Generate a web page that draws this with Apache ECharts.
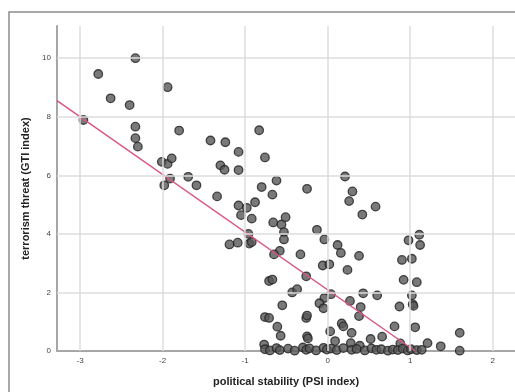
<!DOCTYPE html>
<html>
<head>
<meta charset="utf-8">
<script src="https://cdn.jsdelivr.net/npm/echarts@6/dist/echarts.min.js"></script>
<style>
  html, body { margin: 0; padding: 0; background: #fff; }
  #chart { width: 515px; height: 392px; }
</style>
</head>
<body>
<div id="chart"></div>
<script>
// political stability (PSI) vs terrorism threat (GTI)
const countries = [
    [-2.96, 7.89], [-2.78, 9.46], [-2.63, 8.63], [-2.33, 10.0], [-2.40, 8.40], [-2.33, 7.66],
    [-2.33, 7.27], [-2.30, 6.98], [-1.94, 9.01], [-1.80, 7.53], [-2.01, 6.46], [-1.94, 6.39],
    [-1.89, 6.58], [-1.91, 5.89], [-1.98, 5.66], [-1.69, 5.95], [-1.59, 5.66], [-1.42, 7.19],
    [-1.24, 7.13], [-1.08, 6.80], [-1.30, 6.34], [-1.25, 6.19], [-1.08, 6.18], [-1.34, 5.28],
    [-0.83, 7.54], [-0.76, 6.61], [-0.80, 5.60], [-0.62, 5.82], [-0.67, 5.34], [-0.25, 5.54],
    [0.21, 5.96], [0.30, 5.45], [0.26, 5.12],
    [-1.08, 4.97], [-0.98, 4.89], [-0.88, 5.08], [-1.05, 4.64], [-0.92, 4.52], [-0.96, 4.00],
    [-1.19, 3.64], [-1.09, 3.70], [-0.95, 3.67], [-0.92, 3.72], [-0.66, 4.39], [-0.56, 4.32],
    [-0.51, 4.57], [-0.53, 4.06], [-0.53, 3.81], [-0.58, 3.42], [-0.65, 3.30], [-0.33, 3.30],
    [-0.26, 2.55], [-0.71, 2.39], [-0.67, 2.44], [-0.43, 2.00], [-0.37, 2.11], [-0.55, 1.56],
    [-0.76, 1.16], [-0.71, 1.13], [-0.61, 0.83], [-0.57, 0.52], [-0.26, 1.13], [-0.25, 1.21],
    [-0.25, 0.50], [-0.24, 0.43], [-0.77, 0.22], [0.42, 4.66], [0.58, 4.93], [-0.13, 4.14],
    [-0.04, 3.81], [0.12, 3.62], [0.16, 3.35], [0.38, 3.25], [-0.06, 2.92], [0.02, 2.96],
    [0.24, 2.77], [0.04, 1.94], [-0.04, 1.81], [-0.10, 1.63], [-0.05, 1.46], [0.27, 1.71],
    [0.40, 1.50], [0.43, 1.97], [0.60, 1.90], [0.38, 1.19], [0.17, 0.94], [0.19, 0.84],
    [0.03, 0.67], [0.29, 0.62], [0.09, 0.34], [0.52, 0.41], [0.66, 0.49], [0.81, 0.84],
    [0.87, 1.52], [0.92, 2.43], [0.90, 3.11], [1.02, 3.15], [0.98, 3.78], [1.11, 3.97],
    [1.12, 3.62], [1.08, 2.35], [1.02, 1.90], [1.03, 1.60], [1.04, 1.54], [1.06, 0.81],
    [0.88, 0.26], [1.21, 0.27], [1.37, 0.16], [1.60, 0.62], [1.60, 0.01], [0.28, 0.27],
    [0.39, 0.18]
]
// the crowd of countries sitting on GTI ~ 0
const zeroRow = [
    [-0.76, 0.06], [-0.70, 0.02], [-0.62, 0.10], [-0.58, 0.03], [-0.48, 0.08], [-0.40, 0.01],
    [-0.30, 0.12], [-0.26, 0.04], [-0.22, 0.09], [-0.14, 0.02], [-0.05, 0.11], [-0.01, 0.05],
    [0.04, 0.08], [0.11, 0.03], [0.19, 0.10], [0.29, 0.04], [0.35, 0.07], [0.45, 0.02],
    [0.53, 0.09], [0.59, 0.04], [0.65, 0.06], [0.73, 0.01], [0.79, 0.05], [0.85, 0.03],
    [0.91, 0.08], [0.97, 0.02], [1.01, 0.06], [1.08, 0.03], [1.14, 0.04]
]
// linear fit line ends
const fitLine = [[-3.28, 8.55], [1.06, 0]]
const xGrid = [-3, -2, -1, 0, 1, 2]
const yGrid = [2, 4, 6, 8, 10]

const chart = echarts.init(document.getElementById('chart'))
const font = 'Liberation Sans, Arial, sans-serif'

chart.setOption({
    animation: false,
    graphic: [{
        type: 'rect',
        shape: { x: 9, y: 12, width: 540, height: 420 },
        style: { fill: 'none', stroke: '#8c8c8c', lineWidth: 1.5 },
        silent: true
    }],
    grid: {
        left: 57,
        top: 26,
        right: 0,
        bottom: 40
    },
    xAxis: {
        type: 'value',
        min: -3.28,
        max: 2.27,
        name: 'political stability (PSI index)',
        nameLocation: 'middle',
        nameGap: 25,
        nameTextStyle: { fontFamily: font, fontSize: 11, fontWeight: 'bold', color: '#222' },
        axisLine: { onZero: false, lineStyle: { color: '#a6a6a6', width: 2 } },
        axisTick: { show: false },
        splitLine: { show: false },
        axisLabel: {
            showMinLabel: false,
            showMaxLabel: false,
            margin: 6,
            fontFamily: font,
            fontSize: 8,
            color: '#444'
        }
    },
    yAxis: {
        type: 'value',
        min: 0,
        max: 11.1,
        interval: 2,
        name: 'terrorism threat (GTI index)',
        nameLocation: 'middle',
        nameGap: 25,
        nameTextStyle: { fontFamily: font, fontSize: 11, fontWeight: 'bold', color: '#222' },
        axisLine: { show: true, onZero: false, lineStyle: { color: '#a6a6a6', width: 2 } },
        axisTick: { show: false },
        splitLine: { show: false },
        axisLabel: {
            showMaxLabel: false,
            margin: 6,
            fontFamily: font,
            fontSize: 8,
            color: '#444'
        }
    },
    series: [{
        // grid lines
        type: 'line',
        data: [],
        silent: true,
        z: 1,
        markLine: {
            silent: true,
            symbol: 'none',
            label: { show: false },
            animation: false,
            lineStyle: { color: '#dddddd', width: 1.5, type: 'solid' },
            data: xGrid.map(v => ({ xAxis: v })).concat(yGrid.map(v => ({ yAxis: v })))
        }
    }, {
        type: 'scatter',
        z: 3,
        symbolSize: 8.5,
        itemStyle: {
            color: '#585858',
            borderColor: '#222',
            borderWidth: 1.3
        },
        data: countries.concat(zeroRow)
    }, {
        type: 'line',
        z: 4,
        symbol: 'none',
        silent: true,
        lineStyle: { color: '#d9577f', width: 1.5 },
        data: fitLine
    }]
})
</script>
</body>
</html>
